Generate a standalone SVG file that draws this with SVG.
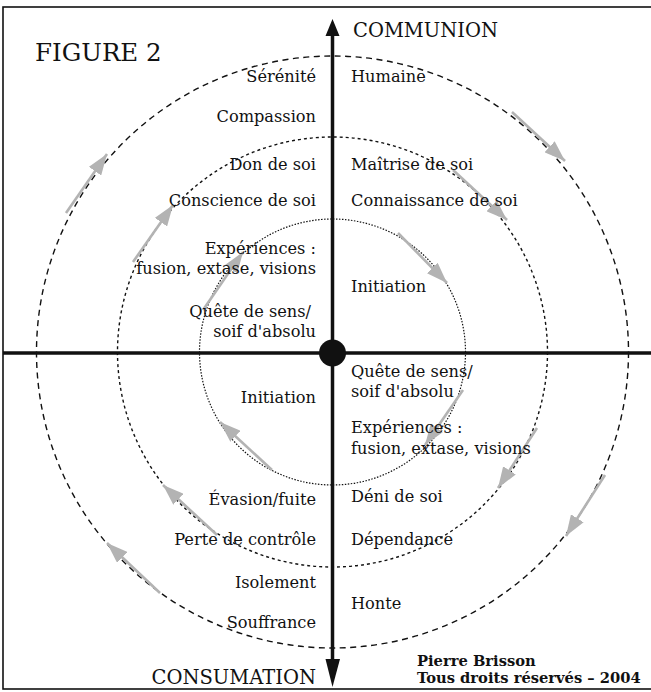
<svg xmlns="http://www.w3.org/2000/svg" width="651" height="692" viewBox="0 0 651 692">
<defs>
<style>
.lbl{font-family:"DejaVu Serif","Liberation Serif",serif;font-size:16.2px;fill:#111}
.l{text-anchor:end}
.title{font-family:"DejaVu Serif","Liberation Serif",serif;fill:#111}
.sig{font-family:"DejaVu Serif","Liberation Serif",serif;font-weight:bold;font-size:14.7px;fill:#111}
.ring{fill:none;stroke:#111}
.garrow{stroke:#b3b3b3;stroke-width:2.6;fill:none;marker-end:url(#gh)}
</style>
<marker id="gh" markerUnits="userSpaceOnUse" markerWidth="21" markerHeight="15" refX="21" refY="7.5" orient="auto" viewBox="0 0 21 15">
<path d="M0,0 L21,7.5 L0,15 z" fill="#b3b3b3"/>
</marker>
</defs>
<rect x="0" y="0" width="651" height="692" fill="#fff"/>
<rect x="3" y="7" width="700" height="682" fill="none" stroke="#111" stroke-width="1.6"/>

<g id="rings">
<circle id="outer" class="ring" cx="332.5" cy="352" r="296" stroke-width="1.4" stroke-dasharray="6 4.5"/>
<circle id="middle" class="ring" cx="332.5" cy="352" r="215" stroke-width="1.4" stroke-dasharray="3 3"/>
<circle id="inner" class="ring" cx="332.5" cy="352" r="133" stroke-width="1.2" stroke-dasharray="1.5 1.5"/>
</g>

<g id="axes">
<line x1="3" y1="353" x2="651" y2="353" stroke="#111" stroke-width="3.3"/>
<line x1="332.5" y1="34" x2="332.5" y2="661" stroke="#111" stroke-width="3.5"/>
<polygon points="332.5,19 325.5,36 339.5,36" fill="#111"/>
<polygon points="332.5,687 325.5,659 340,659" fill="#111"/>
<circle cx="332.5" cy="353" r="13.5" fill="#111"/>
</g>

<g id="connectors">
<path class="garrow" d="M66,213 L107,154"/>
<path class="garrow" d="M133,262 L173,205"/>
<path class="garrow" d="M203,310 L243,252"/>
<path class="garrow" d="M512,112 L565,161"/>
<path class="garrow" d="M453,170 L507,220"/>
<path class="garrow" d="M398,233 L447,283"/>
<path class="garrow" d="M463,390 L425,445"/>
<path class="garrow" d="M537,428 L498,488"/>
<path class="garrow" d="M605,475 L566,536"/>
<path class="garrow" d="M272,470 L220,422"/>
<path class="garrow" d="M217,535 L163,485"/>
<path class="garrow" d="M160,593 L107,543"/>
</g>

<g id="titles">
<text id="figure" class="title" x="35" y="61" font-size="24.5">FIGURE 2</text>
<text id="communion" class="title" x="353" y="37" font-size="19.5">COMMUNION</text>
<text id="consumation" class="title" x="316" y="684" font-size="19.5" text-anchor="end">CONSUMATION</text>
</g>

<g id="left-labels">
<g id="l-serenite"><text class="lbl l" x="316" y="82">Sérénité</text></g>
<g id="l-compassion"><text class="lbl l" x="316" y="122">Compassion</text></g>
<g id="l-don"><text class="lbl l" x="316" y="170">Don de soi</text></g>
<g id="l-conscience"><text class="lbl l" x="316" y="206">Conscience de soi</text></g>
<g id="l-experiences"><text class="lbl l" x="316" y="254">Expériences :</text><text class="lbl l" x="316" y="274">fusion, extase, visions</text></g>
<g id="l-quete"><text class="lbl l" x="311" y="317">Quête de sens/</text><text class="lbl l" x="316" y="337">soif d'absolu</text></g>
<g id="l-initiation"><text class="lbl l" x="316" y="403">Initiation</text></g>
<g id="l-evasion"><text class="lbl l" x="316" y="505">Évasion/fuite</text></g>
<g id="l-perte"><text class="lbl l" x="316" y="545">Perte de contrôle</text></g>
<g id="l-isolement"><text class="lbl l" x="316" y="588">Isolement</text></g>
<g id="l-souffrance"><text class="lbl l" x="316" y="628">Souffrance</text></g>
</g>

<g id="right-labels">
<g id="r-humaine"><text class="lbl" x="351" y="82">Humaine</text></g>
<g id="r-maitrise"><text class="lbl" x="351" y="170">Maîtrise de soi</text></g>
<g id="r-connaissance"><text class="lbl" x="351" y="206">Connaissance de soi</text></g>
<g id="r-initiation"><text class="lbl" x="351" y="292">Initiation</text></g>
<g id="r-quete"><text class="lbl" x="351" y="377">Quête de sens/</text><text class="lbl" x="351" y="397">soif d'absolu</text></g>
<g id="r-experiences"><text class="lbl" x="351" y="433">Expériences :</text><text class="lbl" x="351" y="454">fusion, extase, visions</text></g>
<g id="r-deni"><text class="lbl" x="351" y="502">Déni de soi</text></g>
<g id="r-dependance"><text class="lbl" x="351" y="545">Dépendance</text></g>
<g id="r-honte"><text class="lbl" x="351" y="609">Honte</text></g>
</g>

<g id="signature">
<text class="sig" x="417" y="666">Pierre Brisson</text>
<text class="sig" x="417" y="683">Tous droits réservés – 2004</text>
</g>
</svg>
